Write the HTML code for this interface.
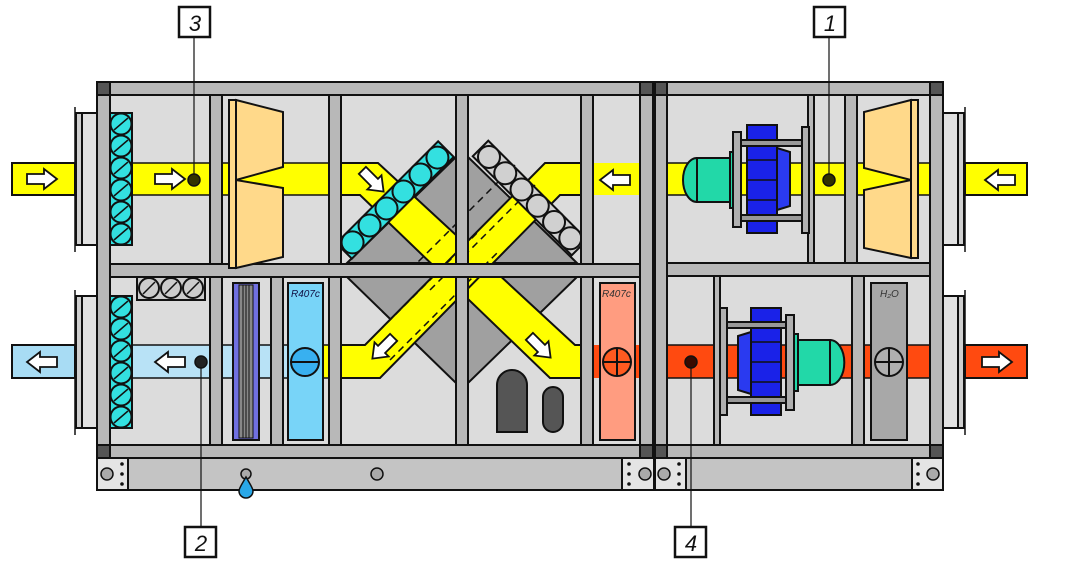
<!DOCTYPE html>
<html><head><meta charset="utf-8"><style>
html,body{margin:0;padding:0;background:#fff;}
svg{display:block;}
text{font-family:"Liberation Sans",sans-serif;}
</style></head><body>
<svg width="1074" height="564" viewBox="0 0 1074 564" xmlns="http://www.w3.org/2000/svg" stroke="#111" stroke-width="2">
<!-- flanges -->
<g fill="#cfcfcf">
<rect x="75" y="107" width="22" height="145" fill="none" stroke="none"/>
<rect x="76" y="113" width="6" height="132"/><rect x="82" y="113" width="15" height="132" fill="#e2e2e2"/>
<rect x="76" y="296" width="6" height="132"/><rect x="82" y="296" width="15" height="132" fill="#e2e2e2"/>
<rect x="943" y="113" width="15" height="132" fill="#e2e2e2"/><rect x="958" y="113" width="6" height="132"/>
<rect x="943" y="296" width="15" height="132" fill="#e2e2e2"/><rect x="958" y="296" width="6" height="132"/>
</g>
<g stroke-width="1.5"><line x1="75" y1="107" x2="75" y2="252"/><line x1="75" y1="290" x2="75" y2="435"/><line x1="965" y1="107" x2="965" y2="252"/><line x1="965" y1="290" x2="965" y2="435"/></g>
<!-- external ducts -->
<rect x="12" y="163" width="63" height="32" fill="#ffff00"/>
<rect x="12" y="345" width="63" height="33" fill="#a8dcf4"/>
<rect x="965" y="163" width="62" height="32" fill="#ffff00"/>
<rect x="965" y="345" width="62" height="33" fill="#ff4a10"/>
<!-- body background -->
<rect x="97" y="82" width="846" height="376" fill="#dcdcdc"/>
<!-- internal ducts -->
<g stroke="none">
<rect x="110" y="163" width="230" height="32" fill="#ffff00"/>
<rect x="593" y="163" width="50" height="32" fill="#ffff00"/>
<rect x="666" y="163" width="264" height="32" fill="#ffff00"/>
<rect x="110" y="345" width="215" height="33" fill="#b8e2f6"/>
<rect x="322" y="345" width="20" height="33" fill="#ffff00"/>
<rect x="593" y="345" width="50" height="33" fill="#ff4a10"/>
<rect x="666" y="345" width="264" height="33" fill="#ff4a10"/>
</g>
<g stroke="#111" stroke-width="1.5" fill="none">
<line x1="110" y1="163" x2="340" y2="163"/><line x1="110" y1="195" x2="340" y2="195"/>
<line x1="666" y1="163" x2="930" y2="163"/><line x1="666" y1="195" x2="930" y2="195"/>
<line x1="110" y1="345" x2="340" y2="345"/><line x1="110" y1="378" x2="340" y2="378"/>
<line x1="666" y1="345" x2="930" y2="345"/><line x1="666" y1="378" x2="930" y2="378"/>
</g>
<!-- heat exchanger diamond -->
<polygon points="347,263 456,157 456,263" fill="#a0a0a0"/>
<polygon points="468,157 577,263 468,263" fill="#a0a0a0"/>
<polygon points="347,277 456,277 456,383" fill="#a0a0a0"/>
<polygon points="468,277 577,277 468,383" fill="#a0a0a0"/>
<!-- yellow crossing bands -->
<polygon points="341,163 378,163 575,345 581,345 581,378 550,378 360,195 341,195" fill="#ffff00"/>
<polygon points="545,163 581,163 581,195 560,195 380,378 341,378 341,345 365,345" fill="#ffff00"/>
<g stroke-dasharray="7,5" stroke-width="1.5"><line x1="410" y1="270" x2="515" y2="165"/><line x1="430" y1="290" x2="535" y2="185"/><line x1="390" y1="360" x2="500" y2="250"/><line x1="370" y1="340" x2="480" y2="230"/></g>
<!-- diagonal filters -->
<g transform="translate(395,200) rotate(-45)">
<rect x="-72" y="-11" width="144" height="22" fill="#33e0e0"/>
<g fill="#33e0e0"><circle cx="-60" cy="0" r="11"/><circle cx="-36" cy="0" r="11"/><circle cx="-12" cy="0" r="11"/><circle cx="12" cy="0" r="11"/><circle cx="36" cy="0" r="11"/><circle cx="60" cy="0" r="11"/></g>
</g>
<g transform="translate(530,198) rotate(45)">
<rect x="-70" y="-11" width="140" height="22" fill="#d0d0d0"/>
<g fill="#d0d0d0"><circle cx="-58" cy="0" r="11"/><circle cx="-35" cy="0" r="11"/><circle cx="-12" cy="0" r="11"/><circle cx="11" cy="0" r="11"/><circle cx="34" cy="0" r="11"/><circle cx="57" cy="0" r="11"/></g>
</g>
<!-- frame posts -->
<g fill="#b8b8b8">
<rect x="97" y="82" width="846" height="13"/>
<rect x="97" y="445" width="846" height="13"/>
<rect x="110" y="264" width="533" height="13"/>
<rect x="666" y="263" width="264" height="13"/>
<rect x="97" y="82" width="13" height="376"/>
<rect x="640" y="82" width="13" height="376"/>
<rect x="655" y="82" width="12" height="376"/>
<rect x="930" y="82" width="13" height="376"/>
<rect x="210" y="95" width="12" height="169"/><rect x="329" y="95" width="12" height="169"/>
<rect x="456" y="95" width="12" height="169"/><rect x="581" y="95" width="12" height="169"/>
<rect x="210" y="277" width="12" height="168"/><rect x="271" y="277" width="12" height="168"/>
<rect x="329" y="277" width="12" height="168"/><rect x="456" y="277" width="12" height="168"/>
<rect x="581" y="277" width="12" height="168"/>
<rect x="808" y="95" width="6" height="168"/><rect x="845" y="95" width="12" height="168"/>
<rect x="714" y="276" width="6" height="169"/><rect x="852" y="276" width="12" height="169"/>
</g>
<g fill="#555"><rect x="97" y="82" width="13" height="13"/><rect x="640" y="82" width="13" height="13"/><rect x="655" y="82" width="12" height="13"/><rect x="930" y="82" width="13" height="13"/>
<rect x="97" y="445" width="13" height="13"/><rect x="640" y="445" width="13" height="13"/><rect x="655" y="445" width="12" height="13"/><rect x="930" y="445" width="13" height="13"/></g>
<!-- base -->
<rect x="97" y="458" width="846" height="32" fill="#c4c4c4"/>
<g fill="#e4e4e4"><rect x="97" y="458" width="31" height="32"/><rect x="622" y="458" width="32" height="32"/><rect x="655" y="458" width="31" height="32"/><rect x="912" y="458" width="31" height="32"/></g>
<g fill="#aaa" stroke-width="1.5"><circle cx="107" cy="474" r="6"/><circle cx="645" cy="474" r="6"/><circle cx="664" cy="474" r="6"/><circle cx="933" cy="474" r="6"/><circle cx="377" cy="474" r="6"/><circle cx="246" cy="474" r="5"/></g>
<g fill="#111" stroke="none"><circle cx="122" cy="464" r="1.8"/><circle cx="122" cy="474" r="1.8"/><circle cx="122" cy="484" r="1.8"/>
<circle cx="629" cy="464" r="1.8"/><circle cx="629" cy="474" r="1.8"/><circle cx="629" cy="484" r="1.8"/>
<circle cx="679" cy="464" r="1.8"/><circle cx="679" cy="474" r="1.8"/><circle cx="679" cy="484" r="1.8"/>
<circle cx="918" cy="464" r="1.8"/><circle cx="918" cy="474" r="1.8"/><circle cx="918" cy="484" r="1.8"/></g>
<path d="M246,477 C242,484 239,488 239,491 A7,7 0 0 0 253,491 C253,488 250,484 246,477 Z" fill="#2aa8e8" stroke-width="1.5"/>
<!-- vertical filters -->
<g fill="#33e0e0">
<rect x="110" y="113" width="22" height="132"/>
<circle cx="121" cy="124" r="10.5"/><circle cx="121" cy="146" r="10.5"/><circle cx="121" cy="168" r="10.5"/><circle cx="121" cy="190" r="10.5"/><circle cx="121" cy="212" r="10.5"/><circle cx="121" cy="234" r="10.5"/>
<rect x="110" y="296" width="22" height="132"/>
<circle cx="121" cy="307" r="10.5"/><circle cx="121" cy="329" r="10.5"/><circle cx="121" cy="351" r="10.5"/><circle cx="121" cy="373" r="10.5"/><circle cx="121" cy="395" r="10.5"/><circle cx="121" cy="417" r="10.5"/>
</g>
<g stroke-width="1.5" fill="none"><path d="M114,130 L128,118 M114,152 L128,140 M114,174 L128,162 M114,196 L128,184 M114,218 L128,206 M114,240 L128,228 M114,313 L128,301 M114,335 L128,323 M114,357 L128,345 M114,379 L128,367 M114,401 L128,389 M114,423 L128,411"/></g>
<!-- damper row -->
<rect x="137" y="277" width="68" height="23" fill="#ccc"/>
<g fill="#ccc"><circle cx="149" cy="288" r="10"/><circle cx="171" cy="288" r="10"/><circle cx="193" cy="288" r="10"/></g>
<path d="M143,294 L155,282 M165,294 L177,282 M187,294 L199,282" stroke-width="1.5"/>
<!-- silencers -->
<polygon points="229,100 236,100 236,268 229,268" fill="#ffd98a"/>
<polygon points="236,100 283,112 283,167 236,180 283,188 283,257 236,268" fill="#ffd98a"/>
<polygon points="918,100 911,100 911,258 918,258" fill="#ffd98a"/>
<polygon points="911,100 864,112 864,168 911,180 864,190 864,248 911,258" fill="#ffd98a"/>
<!-- cooler -->
<rect x="233" y="283" width="26" height="157" fill="#7070e0"/>
<rect x="239" y="285" width="14" height="153" fill="#888" stroke-width="1"/>
<path d="M243,285 V438 M246,285 V438 M249,285 V438" stroke-width="1"/>
<!-- evaporator R407c -->
<rect x="288" y="283" width="35" height="157" fill="#78d4f8"/>
<text x="291" y="297" font-size="10" font-style="italic" fill="#114" stroke="none">R407c</text>
<circle cx="305" cy="362" r="14" fill="#38b0f0"/><line x1="292" y1="362" x2="318" y2="362"/>
<!-- heater R407c -->
<rect x="600" y="283" width="35" height="157" fill="#ff9c80"/>
<text x="602" y="297" font-size="10" font-style="italic" fill="#333" stroke="none">R407c</text>
<circle cx="617" cy="362" r="14" fill="#ff5a20"/><path d="M604,362 H630 M617,349 V375"/>
<!-- H2O -->
<rect x="871" y="283" width="36" height="157" fill="#a8a8a8"/>
<text x="880" y="297" font-size="10" font-style="italic" fill="#333" stroke="none">H₂O</text>
<circle cx="889" cy="362" r="14" fill="#b0b0b0"/><path d="M876,362 H902 M889,349 V375"/>
<!-- drain shapes -->
<path d="M497,432 V385 A15,15 0 0 1 527,385 V432 Z" fill="#555"/>
<rect x="543" y="387" width="20" height="45" rx="10" fill="#555"/>
<!-- fan top -->
<path d="M697,158 A14,22 0 0 0 697,202 Z" fill="#22d8a8"/>
<rect x="697" y="158" width="33" height="44" fill="#22d8a8"/>
<rect x="730" y="152" width="5" height="56" fill="#22d8a8"/>
<rect x="733" y="132" width="8" height="95" fill="#b0b0b0"/>
<rect x="747" y="125" width="30" height="108" fill="#1a22e8"/>
<path d="M747,140 H777 M747,160 H777 M747,180 H777 M747,200 H777 M747,220 H777" stroke-width="1.5"/>
<polygon points="777,148 790,152 790,206 777,210" fill="#2a3af0"/>
<rect x="741" y="140" width="61" height="6" fill="#999"/><rect x="741" y="215" width="61" height="6" fill="#999"/>
<rect x="802" y="127" width="7" height="106" fill="#b0b0b0"/>
<!-- fan bottom -->
<path d="M830,340 A14,22 0 0 1 830,385 Z" fill="#22d8a8"/>
<rect x="797" y="340" width="33" height="45" fill="#22d8a8"/>
<rect x="793" y="334" width="5" height="57" fill="#22d8a8"/>
<rect x="786" y="315" width="8" height="95" fill="#b0b0b0"/>
<rect x="751" y="308" width="30" height="107" fill="#1a22e8"/>
<path d="M751,322 H781 M751,342 H781 M751,362 H781 M751,382 H781 M751,402 H781" stroke-width="1.5"/>
<polygon points="751,332 738,336 738,390 751,394" fill="#2a3af0"/>
<rect x="727" y="322" width="59" height="6" fill="#999"/><rect x="727" y="397" width="59" height="6" fill="#999"/>
<rect x="720" y="308" width="7" height="107" fill="#b0b0b0"/>
<!-- arrows -->
<g fill="#fff" stroke-width="1.8">
<path transform="translate(42,179)" d="M-15,-5 H2 V-10 L15,0 L2,10 V5 H-15 Z"/>
<path transform="translate(170,179)" d="M-15,-5 H2 V-10 L15,0 L2,10 V5 H-15 Z"/>
<path transform="translate(373,181) rotate(45)" d="M-15,-5 H2 V-10 L15,0 L2,10 V5 H-15 Z"/>
<path transform="translate(615,180) rotate(180)" d="M-15,-5 H2 V-10 L15,0 L2,10 V5 H-15 Z"/>
<path transform="translate(1000,180) rotate(180)" d="M-15,-5 H2 V-10 L15,0 L2,10 V5 H-15 Z"/>
<path transform="translate(42,362) rotate(180)" d="M-15,-5 H2 V-10 L15,0 L2,10 V5 H-15 Z"/>
<path transform="translate(170,362) rotate(180)" d="M-15,-5 H2 V-10 L15,0 L2,10 V5 H-15 Z"/>
<path transform="translate(383,348) rotate(135)" d="M-15,-5 H2 V-10 L15,0 L2,10 V5 H-15 Z"/>
<path transform="translate(540,347) rotate(45)" d="M-15,-5 H2 V-10 L15,0 L2,10 V5 H-15 Z"/>
<path transform="translate(997,362)" d="M-15,-5 H2 V-10 L15,0 L2,10 V5 H-15 Z"/>
</g>
<!-- sensors and leaders -->
<g stroke-width="1.2"><line x1="194" y1="37" x2="194" y2="180"/><line x1="829" y1="37" x2="829" y2="180"/><line x1="201" y1="362" x2="201" y2="526"/><line x1="691" y1="362" x2="691" y2="526"/></g>
<g stroke-width="1.5"><circle cx="194" cy="180" r="6" fill="#333300"/><circle cx="829" cy="180" r="6" fill="#333300"/><circle cx="201" cy="362" r="6" fill="#222"/><circle cx="691" cy="362" r="6" fill="#3a0a00"/></g>
<!-- label boxes -->
<g fill="#fff" stroke-width="2.5"><rect x="179" y="7" width="31" height="30"/><rect x="814" y="7" width="31" height="30"/><rect x="185" y="527" width="31" height="30"/><rect x="675" y="527" width="31" height="30"/></g>
<g font-size="22" font-style="italic" fill="#111" stroke="none" text-anchor="middle">
<text x="195" y="31">3</text><text x="830" y="31">1</text><text x="201" y="551">2</text><text x="691" y="551">4</text></g>
</svg>
</body></html>
